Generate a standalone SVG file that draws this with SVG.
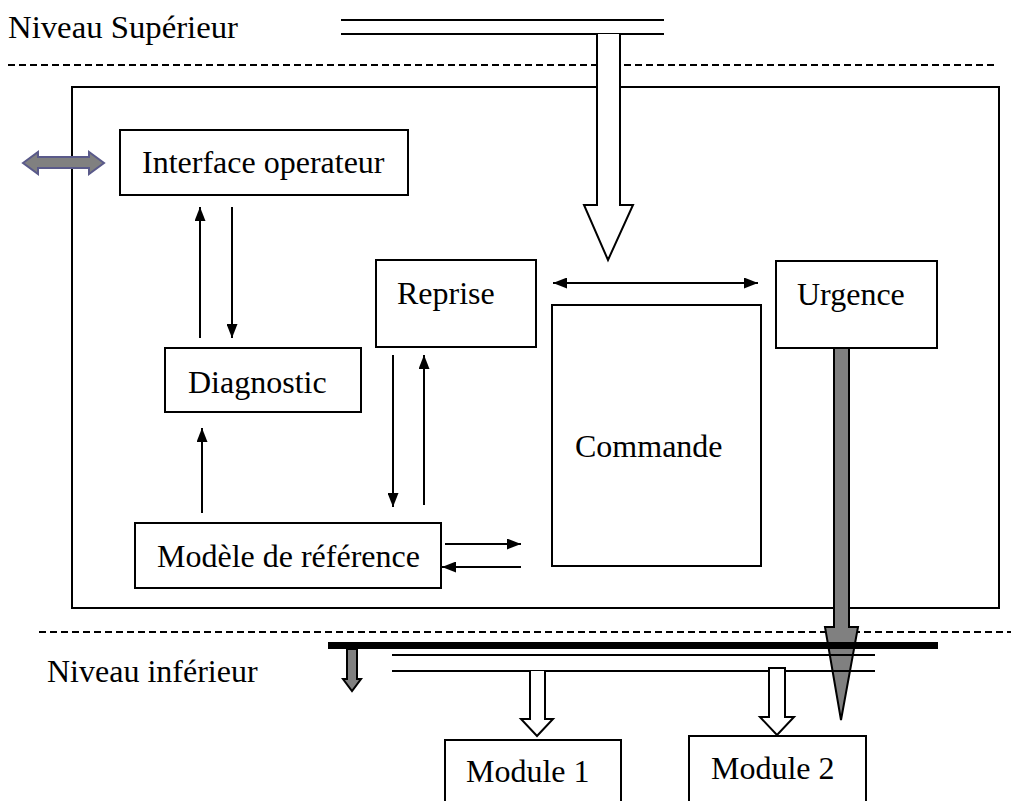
<svg xmlns="http://www.w3.org/2000/svg" width="1011" height="801" viewBox="0 0 1011 801">
<defs>
<style>
text{font-family:"Liberation Serif","Times New Roman",serif;font-size:32px;fill:#000}
.box{fill:#fff;stroke:#000;stroke-width:2}
.ln{fill:none;stroke:#000;stroke-width:2}
.dash{fill:none;stroke:#000;stroke-width:2;stroke-dasharray:7 4}
.hollow{fill:#fff;stroke:#000;stroke-width:2;stroke-linejoin:miter}
.gray{fill:#808080;stroke:#000;stroke-width:2}
</style>
<marker id="ah" viewBox="0 0 14 11" refX="14" refY="5.5" markerWidth="14" markerHeight="11" markerUnits="userSpaceOnUse" orient="auto-start-reverse">
<path d="M0,0 L14,5.5 L0,11 Z" fill="#000"/>
</marker>
</defs>
<rect width="1011" height="801" fill="#fff"/>

<g id="levels">
<text x="8" y="38" textLength="230" lengthAdjust="spacingAndGlyphs">Niveau Supérieur</text>
<line class="dash" x1="8" y1="65" x2="995" y2="65"/>
<line class="dash" x1="39" y1="632" x2="1011" y2="632"/>
<text x="47" y="682">Niveau inférieur</text>
</g>

<g id="container">
<rect class="box" x="72" y="87" width="927" height="521" fill="none"/>
</g>

<g id="connectors">
<line class="ln" x1="341" y1="20" x2="664" y2="20"/>
<line class="ln" x1="341" y1="34" x2="664" y2="34"/>
<path class="hollow" d="M597,34 L597,205 L584,205 L608,260 L633,205 L620,205 L620,34"/>
<path d="M23,163 L38,152 L38,157 L89,157 L89,152 L104,163 L89,174 L89,168 L38,168 L38,174 Z" fill="#808080" stroke="#5a5a8a" stroke-width="2"/>
<line class="ln" x1="200" y1="338" x2="200" y2="207" marker-end="url(#ah)"/>
<line class="ln" x1="232" y1="207" x2="232" y2="338" marker-end="url(#ah)"/>
<line class="ln" x1="202" y1="513" x2="202" y2="428" marker-end="url(#ah)"/>
<line class="ln" x1="393" y1="355" x2="393" y2="507" marker-end="url(#ah)"/>
<line class="ln" x1="424" y1="505" x2="424" y2="355" marker-end="url(#ah)"/>
<line class="ln" x1="445" y1="544" x2="521" y2="544" marker-end="url(#ah)"/>
<line class="ln" x1="521" y1="567" x2="442" y2="567" marker-end="url(#ah)"/>
<line class="ln" x1="553" y1="283" x2="758" y2="283" marker-start="url(#ah)" marker-end="url(#ah)"/>
<path class="gray" d="M834,348 L834,627 L825,627 L841,720 L858,627 L849,627 L849,348 Z"/>
<rect x="328" y="642" width="610" height="7" fill="#000"/>
<line class="ln" x1="392" y1="655" x2="875" y2="655"/>
<line class="ln" x1="392" y1="671" x2="875" y2="671"/>
<path class="gray" d="M347,649 L347,679 L343,679 L352,691 L361,679 L357,679 L357,649 Z"/>
<path class="hollow" d="M530,671 L530,719 L521,719 L537,736 L553,719 L545,719 L545,671"/>
<path class="hollow" d="M769,668 L769,717 L760,717 L777,735 L794,717 L785,717 L785,668 Z"/>
</g>

<g id="interface">
<rect class="box" x="120" y="130" width="288" height="65"/>
<text x="142" y="173">Interface operateur</text>
</g>
<g id="diagnostic">
<rect class="box" x="165" y="348" width="196" height="64"/>
<text x="188" y="393">Diagnostic</text>
</g>
<g id="modele">
<rect class="box" x="135" y="523" width="306" height="65"/>
<text x="157" y="567">Modèle de référence</text>
</g>
<g id="reprise">
<rect class="box" x="376" y="260" width="160" height="87"/>
<text x="397" y="304">Reprise</text>
</g>
<g id="commande">
<rect class="box" x="552" y="305" width="209" height="261"/>
<text x="575" y="457">Commande</text>
</g>
<g id="urgence">
<rect class="box" x="776" y="261" width="161" height="87"/>
<text x="797" y="305">Urgence</text>
</g>
<g id="module1">
<rect class="box" x="445" y="740" width="176" height="70"/>
<text x="466" y="782">Module 1</text>
</g>
<g id="module2">
<rect class="box" x="689" y="736" width="177" height="75"/>
<text x="711" y="779">Module 2</text>
</g>
</svg>
